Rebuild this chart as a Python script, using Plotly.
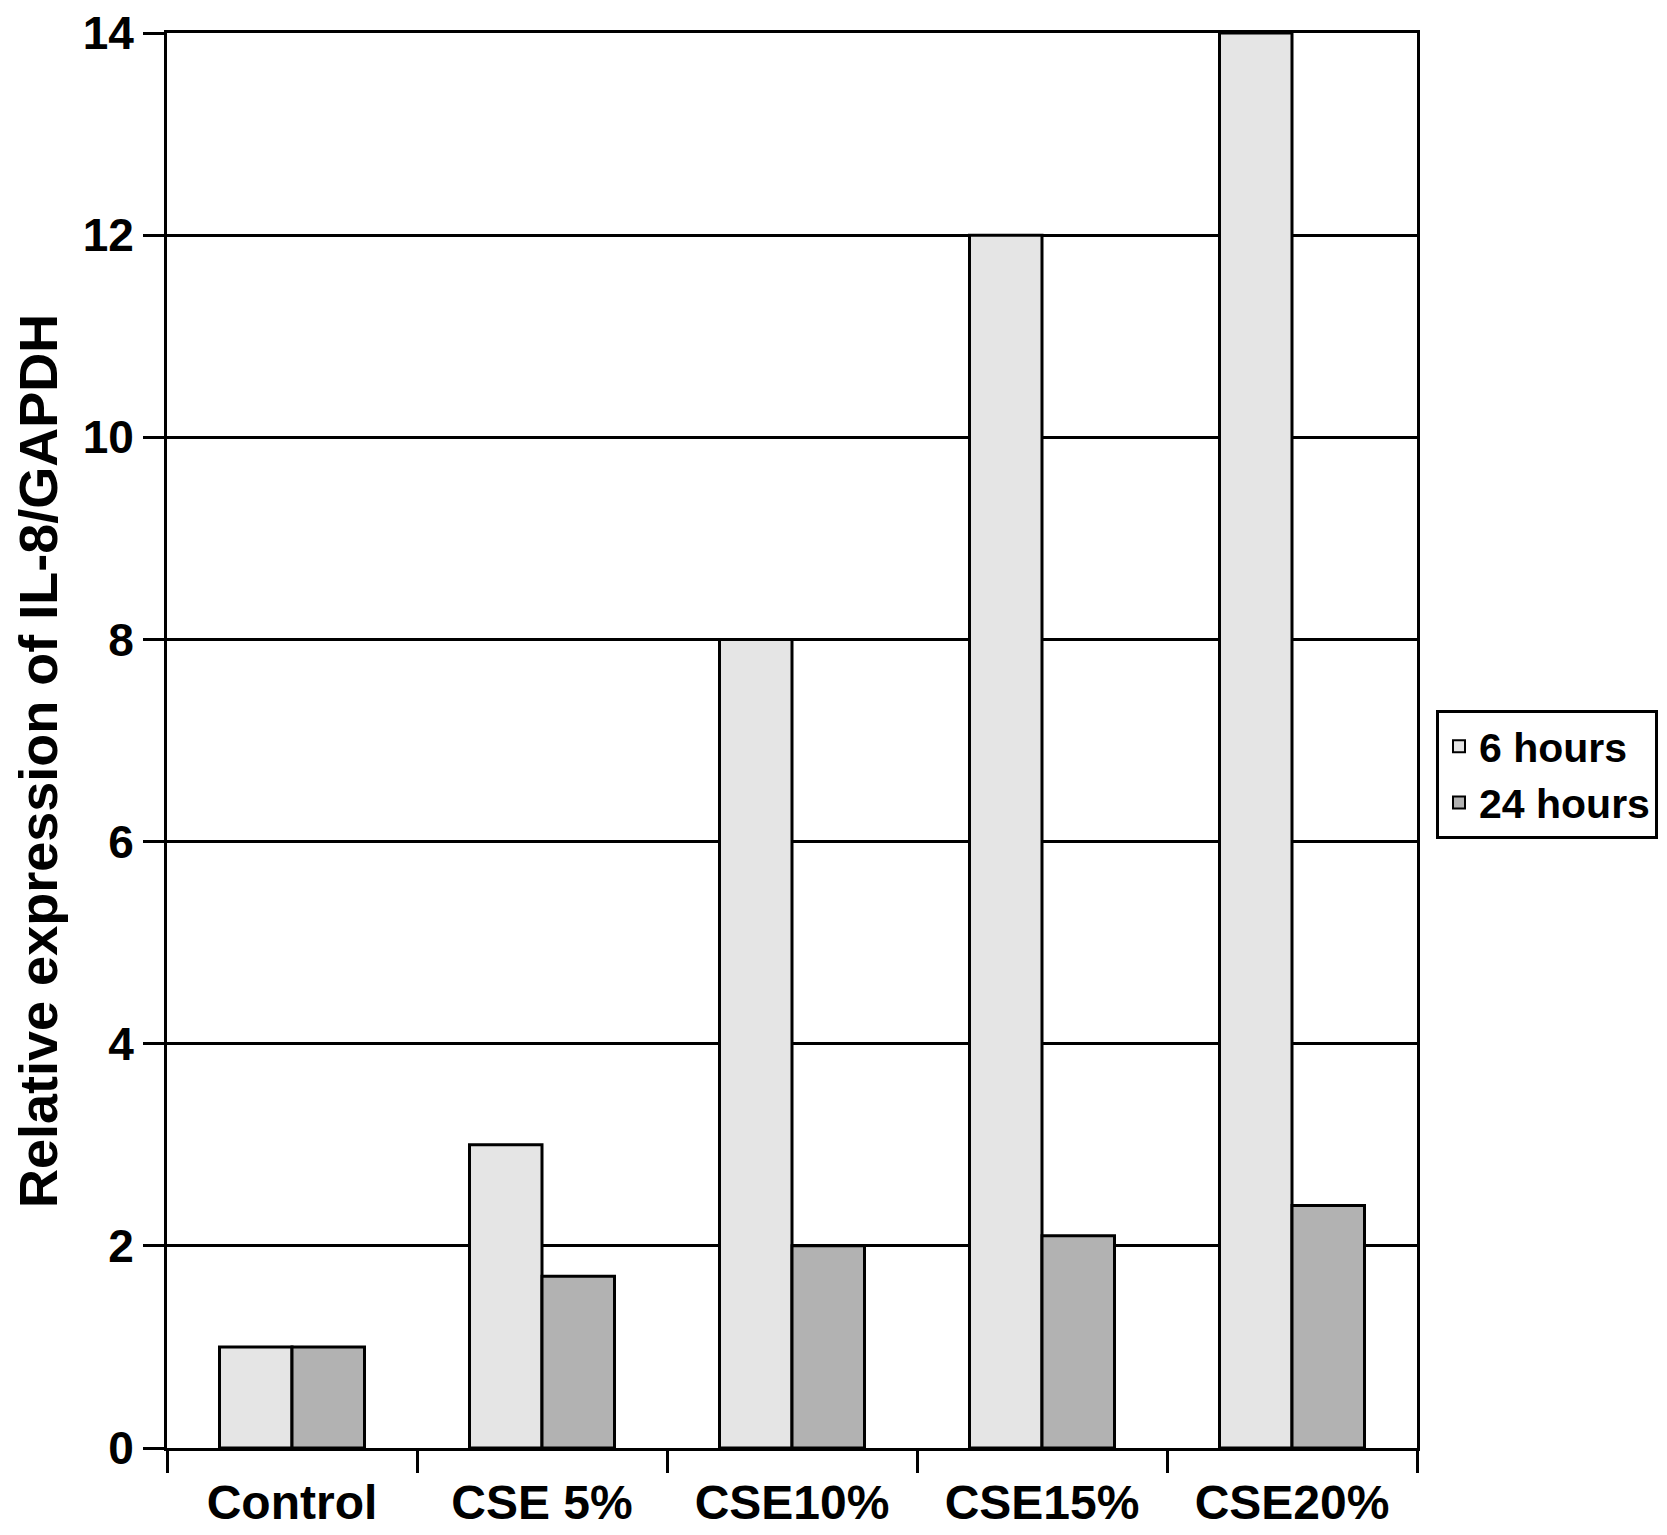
import plotly.graph_objects as go

categories = ["Control", "CSE 5%", "CSE10%", "CSE15%", "CSE20%"]
hours6 = [1.0, 3.0, 8.0, 12.0, 14.0]
hours24 = [1.0, 1.7, 2.0, 2.1, 2.4]
series_names = ["6 hours", "24 hours"]
y_ticks = [0, 2, 4, 6, 8, 10, 12, 14]

FONT = "Liberation Sans, Arial, sans-serif"

fig = go.Figure()
fig.add_trace(go.Bar(x=categories, y=hours6, name=series_names[0],
                     marker=dict(color="#e5e5e5", line=dict(color="black", width=3))))
fig.add_trace(go.Bar(x=categories, y=hours24, name=series_names[1],
                     marker=dict(color="#b2b2b2", line=dict(color="black", width=3))))

W, H = 1659, 1527
L, T = 159, 25
R = W - 1409
B = H - 1440
pw = W - L - R
ph = H - T - B

fig.update_layout(
    width=W, height=H,
    margin=dict(l=L, r=R, t=T, b=B, autoexpand=False),
    paper_bgcolor="white", plot_bgcolor="white",
    barmode="group", bargap=0.42, bargroupgap=0,
    font=dict(family=FONT, color="black"),
    legend=dict(
        x=(1428 - L) / pw, y=(1440 - 702) / ph, xanchor="left", yanchor="top",
        bordercolor="black", borderwidth=3, bgcolor="white",
        font=dict(size=41, family=FONT, color="black", weight="bold"),
        itemsizing="constant", itemwidth=30,
    ),
    xaxis=dict(
        showline=True, linecolor="black", linewidth=3, mirror=True,
        ticks="outside", tickson="boundaries", ticklen=22, tickwidth=3, tickcolor="black",
        tickfont=dict(size=48, family=FONT, color="black", weight="bold"),
        ticklabelstandoff=10, ticklabeloverflow="allow",
        showgrid=False,
    ),
    yaxis=dict(
        range=[0, 14], tickvals=y_ticks,
        showline=True, linecolor="black", linewidth=3, mirror=True,
        ticks="outside", ticklen=21, tickwidth=3, tickcolor="black",
        tickfont=dict(size=46, family=FONT, color="black", weight="bold"),
        ticklabeloverflow="allow",
        showgrid=True, gridcolor="black", gridwidth=3, zeroline=False,
    ),
    annotations=[dict(
        text="Relative expression of IL-8/GAPDH", textangle=-90,
        xref="paper", yref="paper", x=(30 - L) / pw, y=(1440 - 753) / ph,
        xanchor="center", yanchor="middle", showarrow=False,
        font=dict(size=54, family=FONT, color="black", weight="bold"),
    )],
)

fig.write_html("out.html")
